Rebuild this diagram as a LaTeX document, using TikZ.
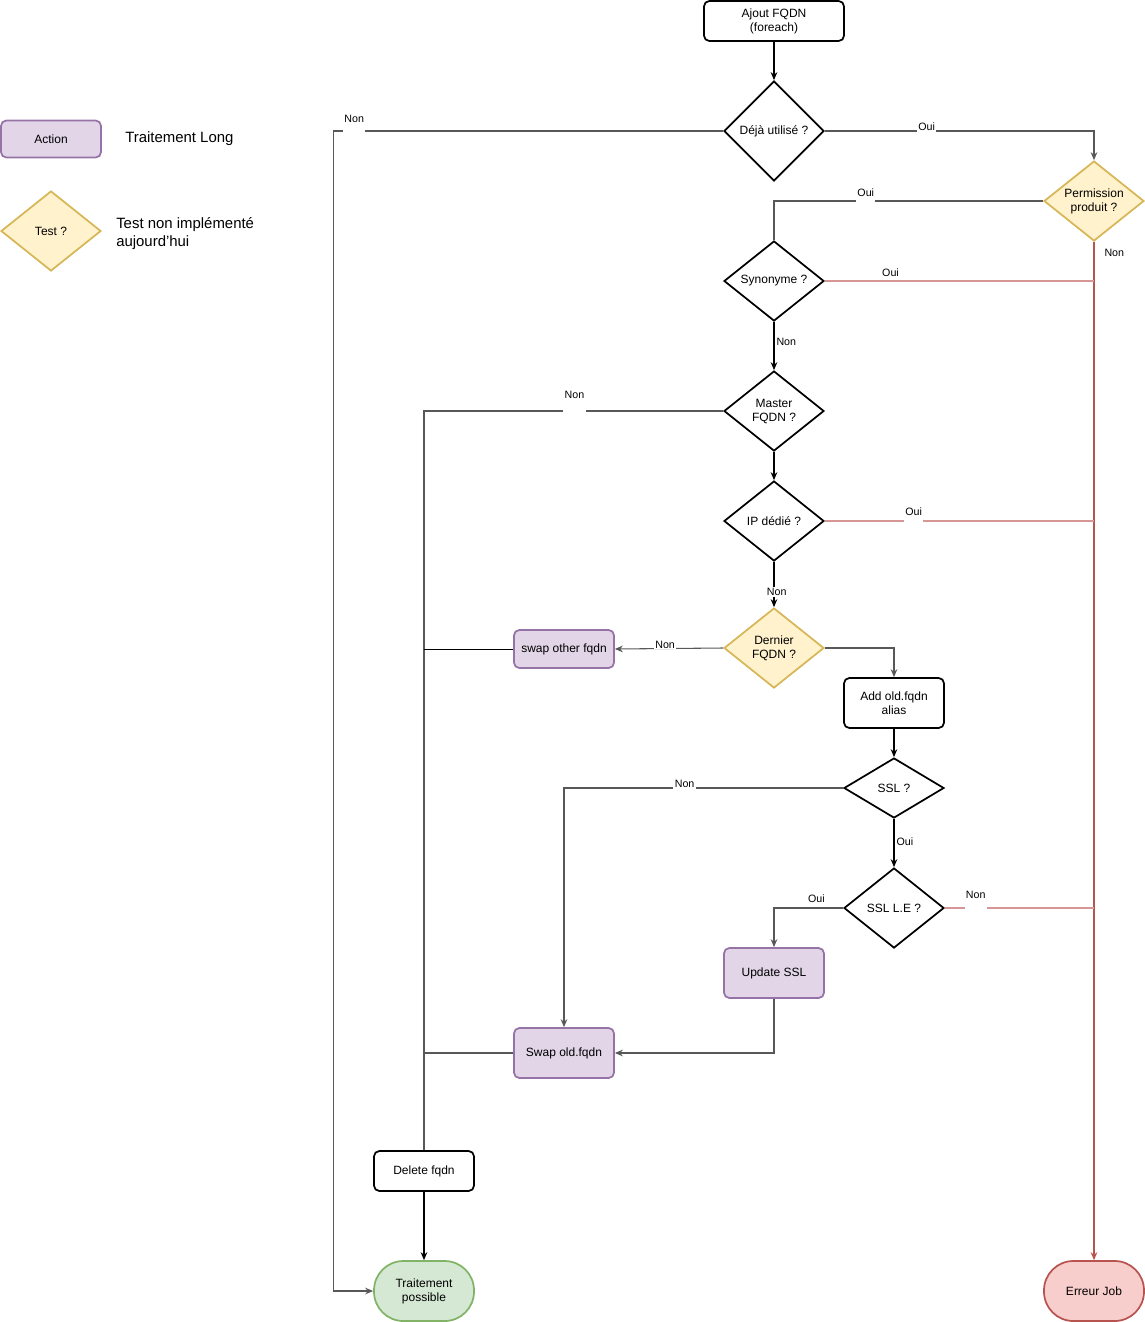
\documentclass[tikz,border=0pt]{standalone}
\usepackage{fontspec}
\setmainfont{Liberation Sans}
\usepackage{tikz}
\usetikzlibrary{arrows.meta,shapes.geometric}
\definecolor{actFill}{HTML}{E1D5E7}
\definecolor{actLine}{HTML}{9673A6}
\definecolor{testFill}{HTML}{FFF2CC}
\definecolor{testLine}{HTML}{D6B656}
\definecolor{okFill}{HTML}{D5E8D4}
\definecolor{okLine}{HTML}{82B366}
\definecolor{errFill}{HTML}{F8CECC}
\definecolor{errLine}{HTML}{B85450}
\definecolor{errLight}{RGB}{214,150,150}
\definecolor{lineGray}{RGB}{88,88,88}
\newcommand{\shapefont}{\fontsize{9}{10.5}\selectfont}
\newcommand{\lblfont}{\fontsize{8}{9.5}\selectfont}
\newcommand{\legfont}{\fontsize{11.2}{13.5}\selectfont}

\tikzset{
  box/.style={draw=black, line width=1.3pt, rounded corners=4pt, fill=white,
    minimum width=75pt, minimum height=30pt, align=center, font=\shapefont},
  action/.style={box, draw=actLine, fill=actFill},
  test/.style={diamond, draw=black, line width=1.3pt, fill=white, aspect=1.25,
    inner sep=0pt, minimum width=75pt, minimum height=60pt, align=center, font=\shapefont},
  testno/.style={test, draw=testLine, fill=testFill},
  endok/.style={box, draw=okLine, fill=okFill, rounded corners=22pt, minimum height=45pt},
  enderr/.style={endok, draw=errLine, fill=errFill},
  link/.style={draw=lineGray, line width=0.8pt},
  edge/.style={link, -{Stealth[length=6pt,width=5pt]}},
  errlink/.style={draw=errLight, line width=0.8pt},
  errarrow/.style={draw=errLine, line width=0.8pt, -{Stealth[length=6pt,width=5pt]}},
  lbl/.style={fill=white, anchor=south, inner xsep=1pt, inner ysep=0pt,
    text height=6pt, text depth=1pt, yshift=-1pt, font=\lblfont},
  lblup/.style={lbl, text depth=#1},
  lblabove/.style={anchor=south, inner sep=1pt, font=\lblfont},
  lblside/.style={anchor=west, inner sep=1.5pt, font=\lblfont}
}

\begin{document}
\begin{tikzpicture}[x=0.75pt, y=-0.75pt]
\useasboundingbox (0,0) rectangle (1145,1322);

% legend
\node[action, minimum height=27.75pt] (legact) at (51,139) {Action};
\node[anchor=west, inner sep=0pt, font=\legfont] (legacttxt) at (125,139) {Traitement Long};
\node[testno] (legtest) at (51,231) {Test ?};
\node[anchor=west, inner sep=0pt, align=left, font=\legfont] (legtesttxt) at (116,234) {Test non implémenté\\aujourd'hui};

% main flow
\node[box, minimum width=105pt] (ajout) at (774,21) {Ajout FQDN\\(foreach)};
\node[test, minimum height=75pt] (deja) at (774,131) {Déjà utilisé ?};
\node[testno] (perm) at (1094,201) {Permission\\produit ?};
\node[test] (syn) at (774,281) {Synonyme ?};
\node[test] (master) at (774,411) {Master\\FQDN ?};
\node[test] (ip) at (774,521) {IP dédié ?};
\node[testno] (dernier) at (774,648) {Dernier\\FQDN ?};
\node[action, minimum height=28.5pt] (swapother) at (564,649) {swap other fqdn};
\node[box, minimum height=37.5pt] (addold) at (894,703) {Add old.fqdn\\alias};
\node[test, minimum height=45pt] (ssl) at (894,788) {SSL ?};
\node[test] (ssle) at (894,908) {SSL L.E ?};
\node[action, minimum height=37.5pt] (upd) at (774,973) {Update SSL};
\node[action, minimum height=37.5pt] (swapold) at (564,1053) {Swap old.fqdn};
\node[box] (del) at (424,1171) {Delete fqdn};
\node[endok] (tp) at (424,1291) {Traitement\\possible};
\node[enderr] (err) at (1094,1291) {Erreur Job};

% connectors
\draw[edge, draw=black] (ajout) -- (deja);
\draw[edge] (deja.west) -- node[lblup=7pt, pos=0.946] {Non} ++(-390,0) |- (tp.west);
\draw[edge] (deja.east) -- node[lbl, pos=0.378] {Oui} (deja.east -| perm.north) -- (perm.north);
\draw[link] (perm.west) -- node[lblup=4pt, pos=0.659] {Oui} (perm.west -| syn.north) -- (syn.north);
\draw[errarrow] (perm.south) -- node[lblside, xshift=6pt, pos=0.011] {Non} (err.north);
\draw[errlink] (syn.east) -- node[lblabove, yshift=2pt, pos=0.244] {Oui} (syn.east -| perm.south);
\draw[edge, draw=black] (syn) -- node[lblside, pos=0.42] {Non} (master);
\draw[link] (master.west) -- node[lblup=10pt, pos=0.497] {Non} (master.west -| del.north) -- (del.north);
\draw[edge, draw=black] (master) -- (ip);
\draw[errlink] (ip.east) -- node[lblup=5pt, pos=0.33] {Oui} (ip.east -| perm.south);
\draw[edge, draw=black] (ip) -- node[fill=white, inner sep=1pt, xshift=2pt, font=\lblfont, pos=0.66] {Non} (dernier);
\draw[edge] (dernier.west) -- node[lbl, pos=0.536] {Non} (swapother.east);
\draw[edge] (dernier.east) -| (addold.north);
\draw[link, draw=black, line width=0.7pt] (swapother.west) -- (swapother.west -| del.north);
\draw[edge, draw=black] (addold) -- (ssl);
\draw[edge] (ssl.west) -- node[lbl, pos=0.568] {Non} (ssl.west -| swapold.north) -- (swapold.north);
\draw[edge, draw=black] (ssl) -- node[lblside, pos=0.48] {Oui} (ssle);
\draw[edge] (ssle.west) -- node[lblabove, yshift=3pt, pos=0.386] {Oui} (ssle.west -| upd.north) -- (upd.north);
\draw[errlink] (ssle.east) -- node[lblup=8pt, pos=0.207] {Non} (ssle.east -| perm.south);
\draw[edge] (upd.south) |- (swapold.east);
\draw[link] (swapold.west) -- (swapold.west -| del.north);
\draw[edge, draw=black, line width=1.2pt] (del) -- (tp);
\end{tikzpicture}
\end{document}
